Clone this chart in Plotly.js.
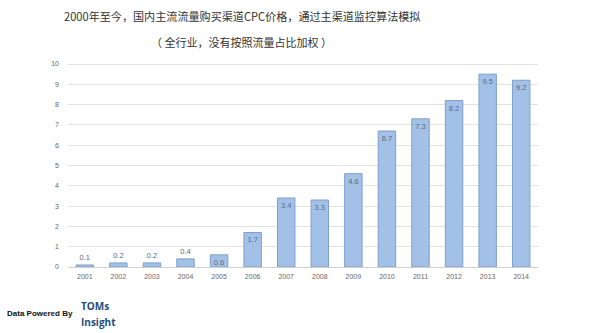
<!DOCTYPE html>
<html><head><meta charset="utf-8">
<script src="https://cdn.plot.ly/plotly-3.0.1.min.js"></script>
<style>html,body{margin:0;padding:0;background:#fff}#c{width:600px;height:333px}</style>
</head><body><div id="c"></div>
<script>
const years = ['2001','2002','2003','2004','2005','2006','2007','2008','2009','2010','2011','2012','2013','2014'];
const cpc = [0.1,0.2,0.2,0.4,0.6,1.7,3.4,3.3,4.6,6.7,7.3,8.2,9.5,9.2];
const labelPos = ['outside','outside','outside','outside','inside','inside','inside','inside','inside','inside','inside','inside','inside','inside'];
const yTicks = [0,1,2,3,4,5,6,7,8,9,10];
const titleLines = ['2000年至今，国内主流流量购买渠道CPC价格，通过主渠道监控算法模拟','（ 全行业，没有按照流量占比加权 ）'];

const trace = {
  type:'bar', x:years, y:cpc,
  text:cpc.map(v=>v.toFixed(1)), textposition:labelPos, insidetextanchor:'end', textangle:0,
  constraintext:'none', cliponaxis:false,
  textfont:{family:'Liberation Sans, Arial', size:7.5, color:'#5a6a80'},
  marker:{color:'#a3c1e7', line:{color:'#7f9fcc', width:1}},
  hoverinfo:'none'
};
const tfont = {family:'Noto Sans CJK SC, sans-serif', size:11.1, color:'#333'};
const layout = {
  width:600, height:333, paper_bgcolor:'#fff', plot_bgcolor:'#fff',
  margin:{l:68, r:62, t:63, b:66},
  bargap:0.48, showlegend:false,
  xaxis:{type:'category', showgrid:false, zeroline:false, showline:false,
    ticks:'', tickfont:{family:'Liberation Sans, Arial', size:7, color:'#666'}, ticklen:0, ticklabelstandoff:4},
  yaxis:{range:[0,10.05], tickvals:yTicks, ticktext:yTicks.map(String), showgrid:true, gridcolor:'#e2e2e2', gridwidth:1,
    zeroline:true, zerolinecolor:'#d0d0d0', showline:false, ticks:'',
    tickfont:{family:'Liberation Sans, Arial', size:7, color:'#666'}, ticklabelstandoff:8},
  annotations:[
    {text:titleLines[0], xref:'paper', yref:'paper', x:0.37, y:1.228, xanchor:'center', yanchor:'middle', showarrow:false, font:tfont},
    {text:titleLines[1], xref:'paper', yref:'paper', x:0.37, y:1.105, xanchor:'center', yanchor:'middle', showarrow:false, font:{...tfont, size:11}},
    {text:'<b>Data Powered By</b>', xref:'paper', yref:'paper', x:-0.135, y:-0.23, xanchor:'left', yanchor:'middle', showarrow:false,
      font:{family:'Liberation Sans, Arial', size:8, color:'#111'}},
    {text:'<b>TOMs</b>', xref:'paper', yref:'paper', x:0.024, y:-0.19, xanchor:'left', yanchor:'middle', showarrow:false,
      font:{family:'Open Sans, sans-serif', size:10, color:'#1d4e7e'}},
    {text:'<b>Insight</b>', xref:'paper', yref:'paper', x:0.024, y:-0.27, xanchor:'left', yanchor:'middle', showarrow:false,
      font:{family:'Open Sans, sans-serif', size:10, color:'#1d4e7e'}}
  ]
};
Plotly.newPlot('c',[trace],layout,{staticPlot:true, displayModeBar:false});
</script></body></html>
